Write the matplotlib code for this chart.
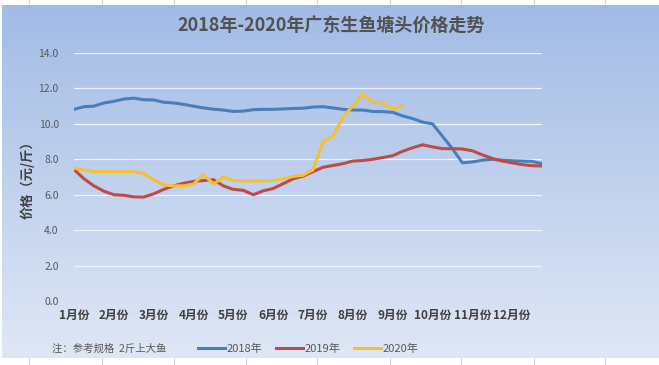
import numpy as np
import matplotlib
matplotlib.use("Agg")
from matplotlib import pyplot as plt

plt.rcParams['font.family'] = ['Noto Sans CJK SC', 'DejaVu Sans']

# weekly prices, 4 points per month
months = ['1月份', '2月份', '3月份', '4月份', '5月份', '6月份',
          '7月份', '8月份', '9月份', '10月份', '11月份', '12月份']

price_2018 = [10.82, 10.97, 11.0, 11.18, 11.27, 11.4, 11.45, 11.36, 11.35, 11.22,
              11.18, 11.1, 11.0, 10.9, 10.83, 10.78, 10.7, 10.72, 10.8, 10.82,
              10.82, 10.84, 10.87, 10.88, 10.95, 10.97, 10.9, 10.82, 10.78, 10.78,
              10.7, 10.69, 10.65, 10.45, 10.3, 10.1, 10.0, 9.3, 8.6, 7.8,
              7.85, 7.95, 8.0, 7.95, 7.92, 7.9, 7.88, 7.75]
price_2019 = [7.42, 6.9, 6.5, 6.2, 6.0, 5.97, 5.88, 5.87, 6.05, 6.3,
              6.5, 6.65, 6.75, 6.8, 6.85, 6.5, 6.3, 6.25, 6.0, 6.22,
              6.35, 6.62, 6.9, 7.05, 7.3, 7.55, 7.65, 7.75, 7.9, 7.93,
              8.0, 8.1, 8.2, 8.45, 8.65, 8.82, 8.7, 8.6, 8.6, 8.58,
              8.48, 8.25, 8.05, 7.9, 7.8, 7.7, 7.64, 7.62]
price_2020 = [7.5, 7.4, 7.3, 7.3, 7.3, 7.3, 7.3, 7.2, 6.85, 6.55,
              6.5, 6.5, 6.6, 7.15, 6.6, 7.0, 6.8, 6.78, 6.78, 6.78,
              6.8, 6.9, 7.03, 7.1, 7.4, 9.0, 9.3, 10.4, 11.0, 11.7,
              11.2, 11.2, 10.85, 11.0]

fig = plt.figure(figsize=(6.59, 3.65), dpi=100)

# spreadsheet cell lines showing above and below the chart
for xc in [29, 102, 174, 246, 317, 390, 461, 534, 605]:
    fig.add_artist(plt.Line2D([xc / 659, xc / 659], [0, 1], color='#d4d4d4', lw=0.8,
                              transform=fig.transFigure, zorder=-2))

# gradient background of the chart area
bg = fig.add_axes([0.003, 0.019, 0.997, 0.966], zorder=-1)
grad = np.linspace(0, 1, 256).reshape(-1, 1)
cmap = matplotlib.colors.LinearSegmentedColormap.from_list('bg', ['#a2bbe6', '#dfe7f5'])
bg.imshow(grad, aspect='auto', cmap=cmap, extent=[0, 1, 0, 1])
bg.set_axis_off()

ax = fig.add_axes([0.1123, 0.1753, 0.7102, 0.6795])
ax.patch.set_alpha(0)
ax.plot(range(len(price_2018)), price_2018, color='#4a7ebb', lw=2.2, label='2018年')
ax.plot(range(len(price_2019)), price_2019, color='#be4b48', lw=2.2, label='2019年')
ax.plot(range(len(price_2020)), price_2020, color='#f5c12e', lw=2.2, label='2020年')

ax.set_xlim(0, 47)
ax.set_ylim(0, 14)
ax.set_yticks(np.arange(0, 15, 2))
ax.set_yticklabels(['%.1f' % v for v in np.arange(0, 15, 2)], fontsize=7.5, color='#595959')
ax.set_xticks(range(0, 48, 4))
ax.set_xticklabels(months, fontsize=8.5, color='#404040', fontweight='bold')
ax.tick_params(axis='x', length=0, pad=6)
ax.tick_params(axis='y', length=0, pad=11)
ax.grid(axis='y', color='#eef2fa', lw=0.9)
for s in ax.spines.values():
    s.set_visible(False)

ax.set_ylabel('价格（元/斤）', fontsize=9.5, color='#404040', fontweight='bold', labelpad=3)

fig.text(0.502, 0.93, '2018年-2020年广东生鱼塘头价格走势', ha='center', va='center',
         fontsize=13, fontweight='bold', color='#525252')
fig.text(0.079, 0.044, '注：参考规格  2斤上大鱼', ha='left', va='center',
         fontsize=7.5, color='#595959')

ax.legend(loc='center', bbox_to_anchor=(0.468, 0.044), bbox_transform=fig.transFigure,
          ncol=3, frameon=False, fontsize=8, handlelength=2.4, handletextpad=0.2,
          columnspacing=1.2, labelcolor='#595959')

plt.savefig('out.png', dpi=100)
